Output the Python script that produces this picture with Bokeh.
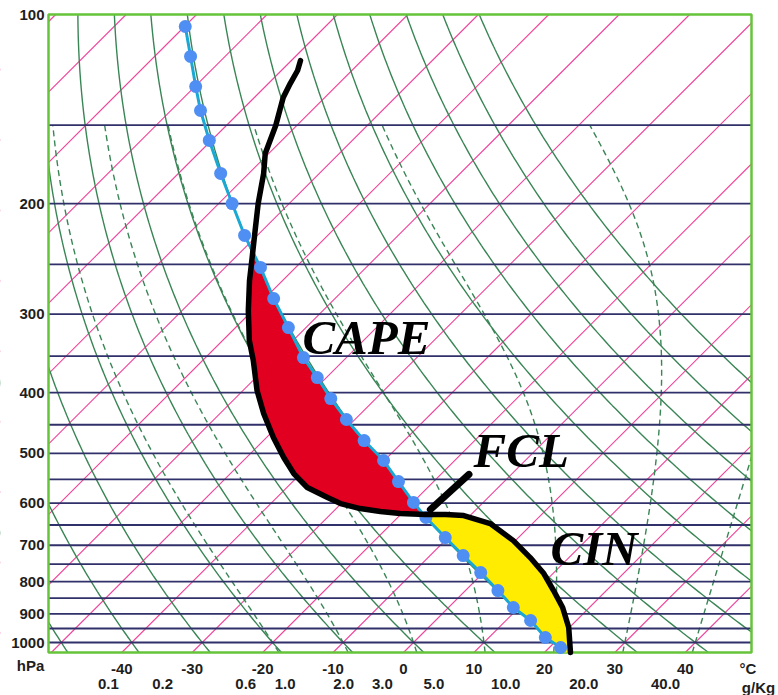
import numpy as np
from bokeh.plotting import figure
from bokeh.models import Range1d
from bokeh.core.properties import value
from bokeh.embed import file_html
from bokeh.resources import INLINE

# ---------------- diagram geometry (skew-T log-p) ----------------
P_BOTTOM = 1037.3      # hPa at lower diagram edge
P_TOP = 100.0          # hPa at upper diagram edge
SKEW = 89.2            # degC of shift per decade of pressure (45 degree isotherms)
X_MIN, X_MAX = -50.4, 49.4
MOIST_TOP = 150.0

W, H = 778, 695
PAD_L, PAD_R, PAD_T, PAD_B = 48, 27, 14, 43

# ---------------- data ----------------
pressure_ticks = [100, 200, 300, 400, 500, 600, 700, 800, 900, 1000]
isobar_levels = [150, 200, 250, 300, 350, 400, 450, 500, 550, 600, 650,
                 700, 750, 800, 850, 900, 950, 1000]
isotherm_values = list(range(-140, 50, 10))
dry_adiabat_theta = list(range(-60, 110, 10))
moist_adiabat_thetaw = [-20, -10, 0, 10, 20, 30, 40]

temp_tick_values = [-40, -30, -20, -10, 0, 10, 20, 30, 40, 48.9]
temp_tick_labels = ["-40", "-30", "-20", "-10", "0", "10", "20", "30", "40", "°C"]

mixing_ratio_labels = ["0.1", "0.2", "0.6", "1.0", "2.0", "3.0", "5.0", "10.0", "20.0", "40.0"]
mixing_ratio_x = [-41.9, -34.2, -22.4, -16.8, -8.5, -3.0, 4.3, 14.5, 25.6, 37.2]

# environmental temperature sounding (black)
env_p = [118.4, 122.8, 128.8, 135.6, 150.2, 166.5, 179.1, 200.0, 220.8, 243.7,
         265.2, 296.1, 330.5, 355.6, 397.0, 431.9, 471.7, 507.5, 538.2, 566.5,
         587.7, 600.8, 611.9, 618.7, 623.2, 625.5, 625.5, 627.8, 646.5, 688.2,
         732.4, 776.5, 826.5, 879.6, 946.4, 1037.3]
env_T = [-98.7, -97.7, -96.9, -95.9, -93.0, -90.5, -87.9, -84.4, -81.0, -77.6,
         -74.7, -70.6, -66.2, -62.8, -58.0, -53.8, -49.0, -44.7, -41.0, -37.1,
         -32.8, -30.1, -26.6, -23.3, -20.2, -16.5, -13.6, -10.9, -6.0, -0.3,
         4.5, 8.7, 12.5, 16.2, 19.9, 23.7]

# lifted parcel path (blue dotted); last point is the surface start
parcel_p = [104.5, 116.6, 130.2, 142.2, 158.7, 179.1, 200.0, 224.8, 252.8, 283.4,
            315.1, 351.8, 378.5, 408.8, 441.5, 476.9, 513.1, 554.2, 598.4, 632.3,
            680.6, 727.0, 773.7, 826.5, 879.6, 922.5, 981.8, 1018.5, 1037.3]
parcel_T = [-119.9, -114.9, -109.9, -105.8, -100.3, -94.0, -88.1, -81.8, -75.0, -68.7,
            -62.5, -56.1, -51.3, -46.4, -41.2, -35.7, -30.1, -25.0, -19.9, -16.0,
            -10.4, -5.3, -0.4, 4.6, 9.2, 13.5, 18.0, 21.6, 22.7]

fcl_pointer_p = [614.0, 540.0]
fcl_pointer_T = [-16.5, -16.0]

annot_text = ["CAPE", "FCL", "CIN"]
annot_x = [-14.35, 9.94, 20.88]
annot_p = [326.3, 494.6, 709.7]


def skew_x(T, p):
    return np.asarray(T, dtype=float) + SKEW * np.log10(P_BOTTOM / np.asarray(p, dtype=float))


def pseudo_adiabat(tw):
    Rd, cp, Lv, eps = 287.04, 1005.7, 2.501e6, 0.622

    def f(p, T):
        Tk = T + 273.15
        es = 6.112 * np.exp(17.67 * T / (T + 243.5))
        rs = eps * es / (p - es)
        return (Rd * Tk + Lv * rs) / (p * (cp + Lv * Lv * rs * eps / (Rd * Tk * Tk)))

    def integrate(p0, T0, p1, n):
        ps = np.linspace(p0, p1, n + 1)
        Ts = [T0]
        T = T0
        for i in range(n):
            h = ps[i + 1] - ps[i]
            pp = ps[i]
            k1 = f(pp, T)
            k2 = f(pp + h / 2, T + h * k1 / 2)
            k3 = f(pp + h / 2, T + h * k2 / 2)
            k4 = f(pp + h, T + h * k3)
            T = T + h * (k1 + 2 * k2 + 2 * k3 + k4) / 6
            Ts.append(T)
        return ps, np.array(Ts)

    pu, Tu = integrate(1000.0, tw, MOIST_TOP, 250)
    pd, Td = integrate(1000.0, tw, P_BOTTOM, 10)
    return np.concatenate([pd[::-1], pu[1:]]), np.concatenate([Td[::-1], Tu[1:]])


# ranges: the diagram box sits inside the canvas with the paddings above
x_per_px = (X_MAX - X_MIN) / (W - PAD_L - PAD_R)
dec_per_px = np.log10(P_BOTTOM / P_TOP) / (H - PAD_T - PAD_B)
x_start = X_MIN - PAD_L * x_per_px
x_end = X_MAX + PAD_R * x_per_px
y_start = P_BOTTOM * 10 ** (PAD_B * dec_per_px)
y_end = P_TOP / 10 ** (PAD_T * dec_per_px)

fig = figure(width=W, height=H,
             x_range=Range1d(x_start, x_end), y_range=Range1d(y_start, y_end),
             y_axis_type="log", x_axis_location=None, y_axis_location=None,
             output_backend="svg", toolbar_location=None,
             min_border=0, min_border_left=0, min_border_right=0,
             min_border_top=0, min_border_bottom=0,
             background_fill_color="white", border_fill_color="white")
fig.grid.visible = False
fig.outline_line_color = None

GREEN = "#3a8556"

# isotherms
iso_xs = [list(skew_x([T, T], [P_BOTTOM, P_TOP])) for T in isotherm_values]
iso_ys = [[P_BOTTOM, P_TOP] for _ in isotherm_values]
fig.multi_line(iso_xs, iso_ys, line_color="#f0449a", line_width=1.1)

# dry adiabats
pg = np.geomspace(P_BOTTOM, P_TOP, 200)
dry_xs, dry_ys = [], []
for th in dry_adiabat_theta:
    T = (th + 273.15) * (pg / 1000.0) ** 0.2857 - 273.15
    dry_xs.append(list(skew_x(T, pg)))
    dry_ys.append(list(pg))
fig.multi_line(dry_xs, dry_ys, line_color=GREEN, line_width=1.4)

# moist adiabats
m_xs, m_ys = [], []
for tw in moist_adiabat_thetaw:
    pm, Tm = pseudo_adiabat(tw)
    m_xs.append(list(skew_x(Tm, pm)))
    m_ys.append(list(pm))
fig.multi_line(m_xs, m_ys, line_color=GREEN, line_width=1.4, line_dash="6 4")

# isobars
n_iso = len(isobar_levels)
fig.segment(x0=[X_MIN] * n_iso, x1=[X_MAX] * n_iso, y0=isobar_levels, y1=isobar_levels,
            line_color="#30306a", line_width=1.8)

# white margins outside the diagram box, then the green box
big = 200.0
fig.quad(left=[x_start - big, X_MAX], right=[X_MIN, x_end + big],
         bottom=[y_start * 2, y_start * 2], top=[y_end / 2, y_end / 2],
         fill_color="white", line_color=None)
fig.quad(left=[X_MIN], right=[X_MAX], bottom=[P_BOTTOM], top=[P_TOP],
         fill_color=None, line_color="#66c43a", line_width=2.5)

# CAPE and CIN areas
envx = skew_x(env_T, env_p)
parx = skew_x(parcel_T, parcel_p)
env_pa = np.array(env_p)
par_pa = np.array(parcel_p)
cape_x = list(envx[9:26]) + list(parx[8:20][::-1])
cape_y = list(env_pa[9:26]) + list(par_pa[8:20][::-1])
fig.patch(cape_x, cape_y, fill_color="#e1001f", line_color=None)
cin_x = list(parx[19:]) + list(envx[25:][::-1])
cin_y = list(par_pa[19:]) + list(env_pa[25:][::-1])
fig.patch(cin_x, cin_y, fill_color="#ffec00", line_color=None)

# parcel path
fig.line(parx, parcel_p, line_color="#1aa8d4", line_width=3)
fig.scatter(parx[:-1], parcel_p[:-1], size=13, fill_color="#4f8ef2", line_color=None)

# environmental sounding
fig.line(envx, env_p, line_color="black", line_width=5.5, line_join="round", line_cap="round")
fig.line(skew_x(fcl_pointer_T, fcl_pointer_p), fcl_pointer_p, line_color="black",
         line_width=7, line_cap="round")

# big annotations
fig.text(x=annot_x, y=annot_p, text=annot_text, text_font=value("Liberation Serif"),
         text_font_style="bold italic", text_font_size="49px", text_color="black",
         text_baseline="middle", text_align="left")

# tick labels
tick_style = dict(text_font=value("Liberation Sans"), text_font_style="bold",
                  text_font_size="15px", text_color="#1e1e1e", text_baseline="middle")
fig.text(x=[X_MIN] * len(pressure_ticks), y=pressure_ticks,
         text=[str(v) for v in pressure_ticks], x_offset=-4, text_align="right", **tick_style)
fig.text(x=temp_tick_values, y=[P_BOTTOM] * len(temp_tick_values), text=temp_tick_labels,
         y_offset=16, text_align="center", **tick_style)
fig.text(x=mixing_ratio_x, y=[P_BOTTOM] * len(mixing_ratio_x), text=mixing_ratio_labels,
         y_offset=31, text_align="center", **tick_style)
fig.text(x=[X_MIN], y=[P_BOTTOM], text=["hPa"], x_offset=-18, y_offset=13,
         text_align="center", **tick_style)
fig.text(x=[X_MAX], y=[P_BOTTOM], text=["g/Kg"], x_offset=7, y_offset=35,
         text_align="center", **tick_style)

open("out.html", "w").write(file_html(fig, INLINE))
